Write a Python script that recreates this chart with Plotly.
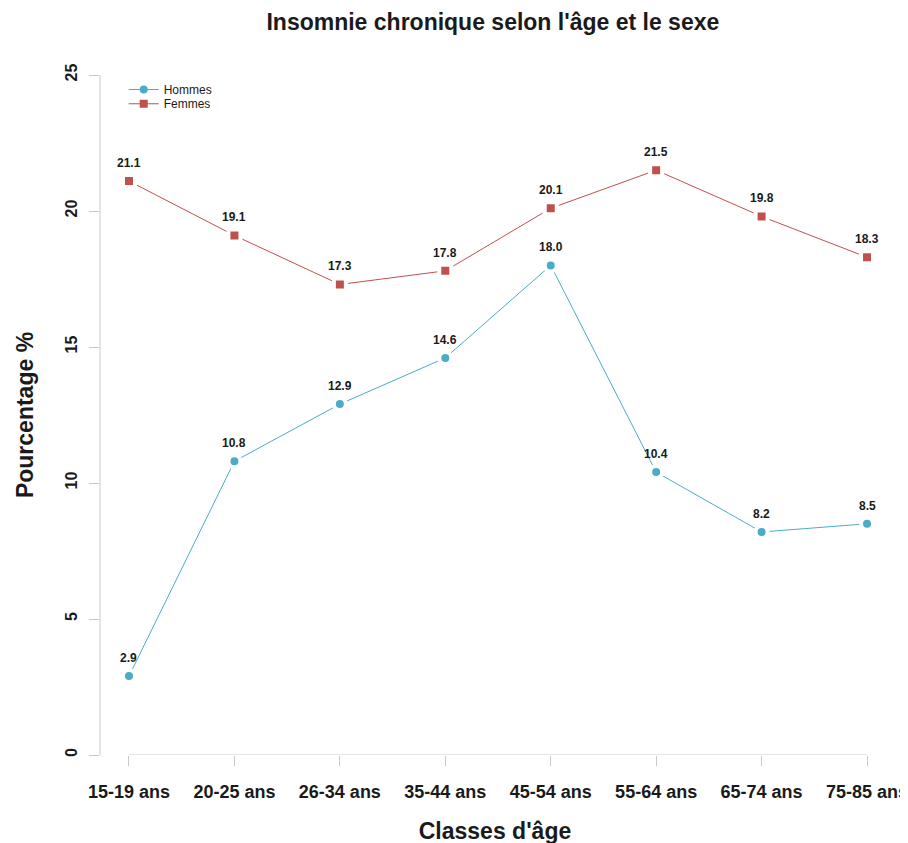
import plotly.graph_objects as go

categories = ["15-19 ans", "20-25 ans", "26-34 ans", "35-44 ans", "45-54 ans", "55-64 ans", "65-74 ans", "75-85 ans"]
hommes = [2.9, 10.8, 12.9, 14.6, 18.0, 10.4, 8.2, 8.5]
femmes = [21.1, 19.1, 17.3, 17.8, 20.1, 21.5, 19.8, 18.3]
y_ticks = [0, 5, 10, 15, 20, 25]

C_H = "#4BACC6"
C_F = "#C0504D"
FONT = "Liberation Sans, Arial, sans-serif"
AX = "#c8c8c8"
TXT = "#1a1a1a"

xi = list(range(len(categories)))

fig = go.Figure()
series_defs = [("Hommes", hommes, C_H, "circle", "legend"), ("Femmes", femmes, C_F, "square", "legend2")]
for name, vals, col, sym, leg in series_defs:
    fig.add_trace(go.Scatter(
        x=xi, y=vals, mode="lines+markers", name=name, showlegend=False,
        line=dict(color=col, width=1),
        marker=dict(symbol=sym, size=12, color=col, line=dict(color="white", width=4)),
    ))
    # legend entry (no data) with plain marker
    fig.add_trace(go.Scatter(
        x=[None], y=[None], mode="lines+markers", name=name, legend=leg,
        line=dict(color=col, width=1),
        marker=dict(symbol=sym, size=8, color=col, line=dict(width=0)),
    ))

annotations = []
for series in (hommes, femmes):
    for i, v in zip(xi, series):
        annotations.append(dict(
            x=i, y=v, xref="x", yref="y", text=f"<b>{v:.1f}</b>", showarrow=False,
            yshift=18, font=dict(family=FONT, size=12, color=TXT),
        ))

shapes = [
    dict(type="line", xref="x", yref="y", x0=0, x1=len(categories) - 1, y0=0, y1=0,
         line=dict(color=AX, width=1)),
    dict(type="line", xref="paper", yref="y", x0=0, x1=0, y0=y_ticks[0], y1=y_ticks[-1],
         line=dict(color=AX, width=1)),
]

legend_common = dict(xanchor="left", yanchor="top", bgcolor="rgba(0,0,0,0)",
                     font=dict(size=12, family=FONT, color=TXT), itemwidth=30)

fig.update_layout(
    width=908, height=843,
    margin=dict(l=92, r=26, t=67, b=96, autoexpand=False),
    paper_bgcolor="white", plot_bgcolor="white",
    font=dict(family=FONT, color=TXT),
    title=dict(text="<b>Insomnie chronique selon l'âge et le sexe</b>", x=0.534, xanchor="center",
               y=0.983, yanchor="middle", font=dict(size=23, family=FONT, color=TXT)),
    xaxis=dict(
        range=[-0.275, 7.218], tickmode="array", tickvals=xi,
        ticktext=[f"<b>{c}</b>" for c in categories], automargin=False,
        showgrid=False, zeroline=False, showline=False,
        ticks="outside", ticklen=10, tickcolor=AX, tickwidth=1, ticklabelstandoff=10,
        tickfont=dict(size=18, family=FONT, color=TXT),
        title=dict(text="<b>Classes d'âge</b>", font=dict(size=23, family=FONT, color=TXT), standoff=22),
    ),
    yaxis=dict(
        range=[0, 25], tickmode="array", tickvals=y_ticks, automargin=False,
        ticktext=[f"<b>{t}</b>" for t in y_ticks], tickangle=-90,
        showgrid=False, zeroline=False, showline=False,
        ticks="outside", ticklen=10, tickcolor=AX, tickwidth=1, ticklabelstandoff=6,
        tickfont=dict(size=16, family=FONT, color=TXT),
        title=dict(text="<b>Pourcentage %</b>", font=dict(size=23, family=FONT, color=TXT), standoff=22),
    ),
    legend=dict(x=0.03, y=1.0, **legend_common),
    legend2=dict(x=0.03, y=0.979, **legend_common),
    annotations=annotations,
    shapes=shapes,
)

fig.write_html("out.html")
